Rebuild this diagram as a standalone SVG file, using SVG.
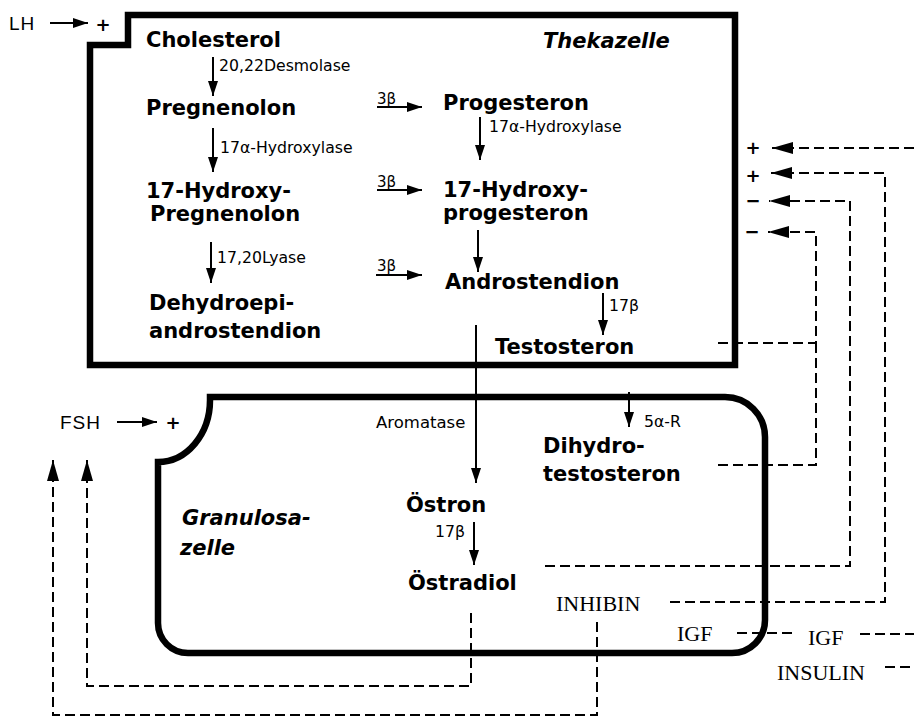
<svg xmlns="http://www.w3.org/2000/svg" width="914" height="718" viewBox="0 0 914 718">
<style>
.cell{fill:none;stroke:#000;stroke-width:6.5;stroke-linejoin:miter}
.b{font-family:"DejaVu Sans",Verdana,sans-serif;font-weight:bold;font-size:21px;fill:#000}
.bi{font-family:"DejaVu Sans",Verdana,sans-serif;font-weight:bold;font-style:italic;font-size:21px;fill:#000}
.s{font-family:"DejaVu Sans",Verdana,sans-serif;font-size:15.7px;fill:#000}
.xs{font-family:"DejaVu Sans",Verdana,sans-serif;font-size:15px;fill:#000}
.serif{font-family:"Liberation Serif","Times New Roman",serif;font-size:22px;fill:#000}
.h{font-family:"Liberation Sans",Arial,sans-serif;font-size:19px;letter-spacing:1px;fill:#000}
.sign{font-family:"DejaVu Sans",Verdana,sans-serif;font-weight:bold;font-size:18px;fill:#000;text-anchor:middle}
.a{fill:none;stroke:#000;stroke-width:2;marker-end:url(#ah)}
.d{fill:none;stroke:#000;stroke-width:2;stroke-dasharray:10 5}
.da{fill:none;stroke:#000;stroke-width:2;stroke-dasharray:10 5;marker-end:url(#ahd)}
</style>
<defs>
<marker id="ah" markerUnits="userSpaceOnUse" markerWidth="15" markerHeight="10" refX="15" refY="5" orient="auto">
<path d="M0,0 L15,5 L0,10 Z" fill="#000"/>
</marker>
<marker id="ahd" markerUnits="userSpaceOnUse" markerWidth="21" markerHeight="12" refX="21" refY="6" orient="auto">
<path d="M0,0 L21,6 L0,12 Z" fill="#000"/>
</marker>
</defs>
<rect width="914" height="718" fill="#fff"/>

<g id="thekazelle">
<path class="cell" d="M128 15 H735 V365 H90 V45 H128 Z"/>
<text class="bi" x="543" y="48">Thekazelle</text>
</g>
<g id="granulosazelle">
<path class="cell" d="M210 397 H725 A40 40 0 0 1 765 437 V620 A33 33 0 0 1 732 653 H188 A30 30 0 0 1 158 623 V462 A52 62 0 0 0 210 400 Z"/>
<text class="bi" x="182" y="525">Granulosa-</text>
<text class="bi" x="180" y="555">zelle</text>
</g>

<g id="lh"><text class="h" x="9" y="30">LH</text><text class="sign" x="103" y="31">+</text></g>
<g id="fsh"><text class="h" x="60" y="429">FSH</text><text class="sign" x="173" y="429">+</text></g>

<g id="cholesterol"><text class="b" x="146" y="47">Cholesterol</text></g>
<g id="pregnenolon"><text class="b" x="146" y="115">Pregnenolon</text></g>
<g id="hydroxypregnenolon"><text class="b" x="146" y="198">17-Hydroxy-</text><text class="b" x="150" y="221">Pregnenolon</text></g>
<g id="dhea"><text class="b" x="149" y="310">Dehydroepi-</text><text class="b" x="149" y="338">androstendion</text></g>
<g id="progesteron"><text class="b" x="443" y="110">Progesteron</text></g>
<g id="hydroxyprogesteron"><text class="b" x="443" y="197">17-Hydroxy-</text><text class="b" x="443" y="220">progesteron</text></g>
<g id="androstendion"><text class="b" x="445" y="289">Androstendion</text></g>
<g id="testosteron"><text class="b" x="495" y="354">Testosteron</text></g>
<g id="dihydrotestosteron"><text class="b" x="543" y="453">Dihydro-</text><text class="b" x="543" y="481">testosteron</text></g>
<g id="oestron"><text class="b" x="406" y="512">Östron</text></g>
<g id="oestradiol"><text class="b" x="408" y="590">Östradiol</text></g>
<g id="inhibin"><text class="serif" x="556" y="611">INHIBIN</text></g>
<g id="igf-in"><text class="serif" x="677" y="641">IGF</text></g>
<g id="igf-out"><text class="serif" x="808" y="645">IGF</text></g>
<g id="insulin"><text class="serif" x="777" y="680">INSULIN</text></g>

<g id="connectors">
<line class="a" x1="50" y1="23" x2="88" y2="23"/>
<line class="a" x1="117" y1="422" x2="157" y2="422"/>

<line class="a" x1="213" y1="57" x2="213" y2="96"/>
<text class="s" x="219" y="71">20,22Desmolase</text>
<line class="a" x1="213" y1="128" x2="213" y2="172"/>
<text class="s" x="220" y="153">17α-Hydroxylase</text>
<line class="a" x1="211" y1="242" x2="211" y2="283"/>
<text class="s" x="217" y="263">17,20Lyase</text>

<line class="a" x1="377" y1="107" x2="422" y2="107"/>
<text class="xs" x="377" y="104">3β</text>
<line class="a" x1="377" y1="190" x2="422" y2="190"/>
<text class="xs" x="377" y="187">3β</text>
<line class="a" x1="376" y1="275" x2="422" y2="275"/>
<text class="xs" x="377" y="271">3β</text>

<line class="a" x1="480" y1="117" x2="480" y2="160"/>
<text class="s" x="489" y="132">17α-Hydroxylase</text>
<line class="a" x1="478" y1="230" x2="478" y2="272"/>
<line class="a" x1="603" y1="293" x2="603" y2="335"/>
<text class="s" x="609" y="311">17β</text>
<line class="a" x1="476" y1="325" x2="476" y2="483"/>
<text class="s" x="376" y="428" style="font-size:16.5px">Aromatase</text>
<line class="a" x1="629" y1="392" x2="629" y2="427"/>
<text class="s" x="644" y="427">5α-R</text>
<line class="a" x1="474" y1="522" x2="474" y2="565"/>
<text class="s" x="435" y="537">17β</text>

<line class="da" x1="914" y1="148" x2="772" y2="148"/>
<text class="sign" x="753" y="154">+</text>
<path class="da" d="M670 602 H885 V173 H771"/>
<text class="sign" x="753" y="182">+</text>
<path class="da" d="M545 566 H850 V201 H769"/>
<text class="sign" x="753" y="207">−</text>
<path class="da" d="M718 343 H816 V232 H768"/>
<path class="d" d="M718 465 H816 V343"/>
<text class="sign" x="752" y="238">−</text>

<path class="d" d="M737 633 H793"/>
<path class="d" d="M860 634 H914"/>
<path class="d" d="M885 667 H914"/>

<path class="da" d="M471 613 V686 H87 V460"/>
<path class="da" d="M597 622 V715 H53 V460"/>
</g>
</svg>
